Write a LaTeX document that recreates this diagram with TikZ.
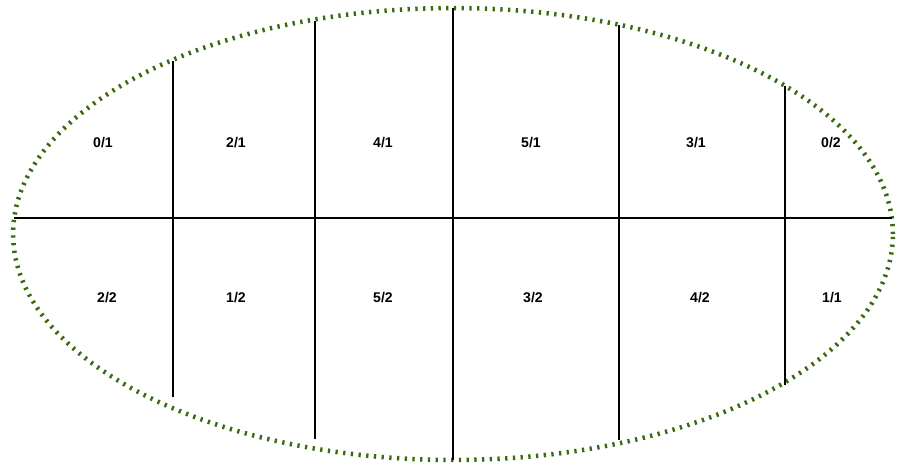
\documentclass[tikz,border=0pt]{standalone}
\usepackage{fontspec}
\setsansfont{Liberation Sans}
\usetikzlibrary{calc}
\definecolor{verdeBorde}{HTML}{3A6A10}
\tikzset{
  borde/.style={draw=verdeBorde, line width=2.6pt, dash pattern=on 1.3pt off 3.1pt},
  corte/.style={draw=black, line width=1.4pt},
  etiqueta/.style={font=\sffamily\bfseries\fontsize{8}{9.5}\selectfont, inner sep=1pt},
}
\begin{document}
\begin{tikzpicture}[x=0.02cm, y=-0.02cm]
  \useasboundingbox (0,0) rectangle (907,468);
  % contorno
  \draw[borde] (453,234) ellipse [x radius=8.8cm, y radius=4.52cm];

  % linea horizontal
  \coordinate (izq) at (14,218);
  \coordinate (der) at (892,218);
  \draw[corte] (izq) -- (der);

  % cortes verticales
  \foreach \x/\arr/\abj [count=\i] in {173/61/397, 315/21/439, 453/8/460, 619/25/440, 785/86/385} {
    \coordinate (c\i-a) at (\x,\arr);
    \coordinate (c\i-b) at (\x,\abj);
    \draw[corte] (c\i-a) -- (c\i-b);
  }

  % etiquetas fila superior
  \node[etiqueta] (e01) at (103,143) {0/1};
  \node[etiqueta] (e21) at (236,143) {2/1};
  \node[etiqueta] (e41) at (383,143) {4/1};
  \node[etiqueta] (e51) at (531,143) {5/1};
  \node[etiqueta] (e31) at (696,143) {3/1};
  \node[etiqueta] (e02) at (831,143) {0/2};

  % etiquetas fila inferior
  \node[etiqueta] (e22) at (107,298) {2/2};
  \node[etiqueta] (e12) at (236,298) {1/2};
  \node[etiqueta] (e52) at (383,298) {5/2};
  \node[etiqueta] (e32) at (533,298) {3/2};
  \node[etiqueta] (e42) at (700,298) {4/2};
  \node[etiqueta] (e11) at (832,298) {1/1};
\end{tikzpicture}
\end{document}
